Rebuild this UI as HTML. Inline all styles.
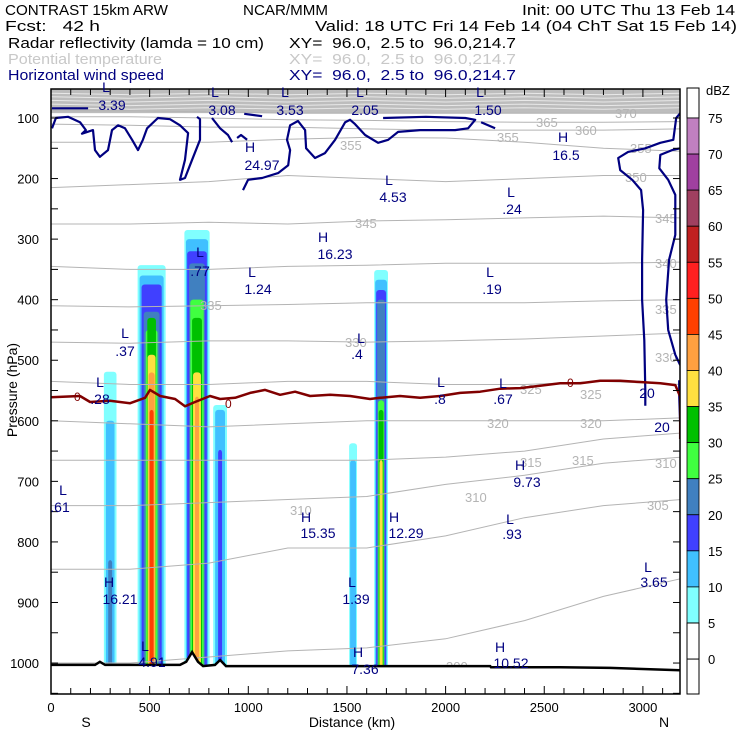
<!DOCTYPE html>
<html><head><meta charset="utf-8"><style>
html,body{margin:0;padding:0;background:#fff;}
svg{display:block;font-family:"Liberation Sans",sans-serif;}
#header text{white-space:pre;}
</style></head><body>
<svg id="chart" width="740" height="740" viewBox="0 0 740 740" xmlns="http://www.w3.org/2000/svg">
<g id="header" font-size="15" fill="#000" xml:space="preserve">
<text x="5" y="15" textLength="163" lengthAdjust="spacingAndGlyphs">CONTRAST 15km ARW</text>
<text x="243" y="15" textLength="85" lengthAdjust="spacingAndGlyphs">NCAR/MMM</text>
<text x="522" y="15" textLength="213" lengthAdjust="spacingAndGlyphs">Init: 00 UTC Thu 13 Feb 14</text>
<text x="5" y="31" textLength="95" lengthAdjust="spacingAndGlyphs">Fcst:   42 h</text>
<text x="315" y="31" textLength="422" lengthAdjust="spacingAndGlyphs">Valid: 18 UTC Fri 14 Feb 14 (04 ChT Sat 15 Feb 14)</text>
<text x="8" y="48" textLength="256" lengthAdjust="spacingAndGlyphs">Radar reflectivity (lamda = 10 cm)</text>
<text x="289" y="48" textLength="227" lengthAdjust="spacingAndGlyphs">XY=  96.0,  2.5 to  96.0,214.7</text>
<text x="8" y="64" fill="#c8c8c8" textLength="154" lengthAdjust="spacingAndGlyphs">Potential temperature</text>
<text x="289" y="64" fill="#c8c8c8" textLength="227" lengthAdjust="spacingAndGlyphs">XY=  96.0,  2.5 to  96.0,214.7</text>
<text x="8" y="80" fill="#000080" textLength="156" lengthAdjust="spacingAndGlyphs">Horizontal wind speed</text>
<text x="289" y="80" fill="#000080" textLength="227" lengthAdjust="spacingAndGlyphs">XY=  96.0,  2.5 to  96.0,214.7</text>
</g>
<defs><clipPath id="plotclip"><rect x="51" y="89" width="629" height="605"/></clipPath></defs>
<g id="plot" clip-path="url(#plotclip)"></g>
<g id="axes"></g>
<g id="cbar"></g>
<g id="hl" font-size="14" fill="#000080"></g>
</svg>
<script>
// ---- data ----
const xTicks = [0,500,1000,1500,2000,2500,3000];
const pTicks = [100,200,300,400,500,600,700,800,900,1000];
const dbzLevels = [5,10,15,20,25,30,35,40,45,50,55,60,65,70];
const dbzColors = ["#80ffff","#40c0ff","#4040ff","#4080c0","#40ff40","#00c000","#ffe040","#ffa040","#ff4000","#ff2020","#c02020","#a04060","#a040a0","#c080c0"];
const cbarLabels = [75,70,65,60,55,50,45,40,35,30,25,20,15,10,5,0];
// reflectivity cells: column centre (km), half width (km), top (hPa), dBZ
const cellCenter = [300,300,300, 510,510,510,510,510,510,510,510,510, 740,740,740,740,740,740,740,740, 857,857,857, 1531,1531, 1673,1673,1673,1673,1673,1673,1673];
const cellHalf   = [32,22,10, 71,61,51,40,30,22,20,15,10, 64,56,50,40,34,25,20,10, 35,25,10, 20,15, 35,30,25,20,15,12,8];
const cellTop    = [519,600,830, 343,360,375,420,450,430,491,520,582, 285,300,320,340,400,430,520,560, 574,582,648, 637,665, 351,367,384,400,566,582,665];
const cellDbz    = [5,10,20, 5,10,15,20,25,30,35,40,45, 5,10,15,20,25,30,35,40, 5,10,15, 5,10, 5,10,15,20,25,30,35];
// potential temperature
const thetaX = [0,400,800,1200,1600,2000,2400,2800,3200];
const thetaLevels = [300,305,310,315,320,325,330,335,340,345,350,355,360,365,370];
const thetaP = [
 [1000,1000,990,980,975,960,930,890,860],
 [845,845,835,810,810,790,760,740,730],
 [740,740,735,730,725,705,690,670,660],
 [665,665,665,665,665,660,650,630,620],
 [600,605,610,605,600,600,600,600,595],
 [535,540,540,535,535,540,540,535,540],
 [470,472,468,468,470,468,465,460,455],
 [410,412,410,408,405,405,405,402,400],
 [345,350,350,345,343,340,340,340,338],
 [275,275,272,275,270,268,265,262,265],
 [215,210,205,195,200,205,200,195,195],
 [140,140,140,135,132,133,140,150,155],
 [110,112,115,115,118,120,120,120,118],
 [98,98,100,103,104,106,107,107,106],
 [88,88,90,92,92,92,92,92,92]];
const upperBandP = [60,66,72,78,84];
// wind speed contours [km,hPa]
const windLines = [
 [[5,84],[188,84]],
 [[5,117],[25,100],[86,98],[147,107],[177,120],[157,126],[213,120],[223,153],[248,164],[289,153],[309,120],[340,112],[375,117],[411,136],[441,153],[466,136],[487,117],[542,100],[603,102],[654,112],[695,125],[679,169],[654,202],[679,199],[715,169],[755,136],[755,102],[740,98]],
 [[816,100],[857,117],[897,128],[918,140]],
 [[943,133],[963,128],[994,136]],
 [[979,93],[1070,97]],
 [[973,219],[999,202],[1070,199],[1151,191],[1202,178],[1212,153],[1196,136],[1212,112],[1252,105],[1288,120],[1293,150],[1338,166],[1389,158],[1440,136],[1491,107],[1516,103],[1541,110],[1592,128],[1658,141],[1709,136],[1759,123],[1871,120],[2048,120],[2114,117],[2150,103],[2100,100],[1900,98],[1683,100]],
 [[2180,107],[2251,117]],
 [[3189,92],[3169,100],[3154,136],[3088,141],[3012,150],[2925,156],[2875,166],[2885,186],[2946,202],[2991,219],[3001,252],[2996,334],[2996,400],[3007,467],[3012,549],[3012,575]],
 [[3189,150],[3148,153],[3088,161],[3083,183],[3128,202],[3164,227],[3164,293],[3133,334],[3118,400],[3128,450],[3164,491],[3189,508]],
 [[3184,533],[3184,558],[3189,607]]];
const zeroLine = [[0,561],[147,559],[198,569],[299,567],[401,571],[477,562],[502,549],[553,559],[629,564],[679,576],[730,569],[806,559],[857,564],[933,562],[1009,554],[1085,549],[1161,557],[1237,552],[1313,559],[1415,557],[1516,559],[1617,564],[1668,562],[1769,559],[1871,562],[1972,559],[2074,554],[2175,552],[2276,547],[2378,546],[2479,542],[2581,538],[2682,538],[2783,534],[2885,534],[2986,536],[3088,538],[3164,541],[3189,560],[3189,630]];
const terrain = [[0,1003],[223,1003],[248,998],[274,1003],[654,1003],[685,998],[715,982],[745,998],[771,1005],[831,1003],[857,995],[887,1005],[2226,1005],[2230,1007],[2581,1007],[2834,1008],[3189,1012]];

// ---- axes ----
const X = km => 51 + km*0.1973;
const Y = p => 118 + (p-100)*0.6056;
const NS = "http://www.w3.org/2000/svg";
function mk(tag, attrs, parent){const e=document.createElementNS(NS,tag);for(const k in attrs)e.setAttribute(k,attrs[k]);parent.appendChild(e);return e;}
const plot = document.getElementById('plot');
const axes = document.getElementById('axes');
const cbar = document.getElementById('cbar');
const pts = arr => arr.map(d=>X(d[0]).toFixed(1)+','+Y(d[1]).toFixed(1)).join(' ');

let band = mk('rect',{x:51,y:89,width:629,height:Y(92)-89,fill:'#bdbdbd'},plot);


upperBandP.forEach(p=>{
  const l = mk('polyline',{points:pts(thetaX.map((x,i)=>[x,p+((i%2)?1.5:-1)])),fill:'none',stroke:'#e8e8e8','stroke-width':1},plot);
  
  
});

const order = cellDbz.map((d,i)=>i).sort((a,b)=>cellDbz[a]-cellDbz[b]);
order.forEach(i=>{
  const ci = dbzLevels.indexOf(cellDbz[i]);
  const r = mk('rect',{x:X(cellCenter[i]-cellHalf[i]),y:Y(cellTop[i]),width:cellHalf[i]*2*0.1973,height:Y(1015)-Y(cellTop[i]),fill:dbzColors[ci],rx:3},plot);
  
  
});

thetaLevels.forEach((lv,k)=>{
  const l = mk('polyline',{points:pts(thetaX.map((x,i)=>[x,thetaP[k][i]])),fill:'none',stroke:'#b4b4b4','stroke-width':1},plot);
  
  
});

const thLabels=[["365",536,127],["370",615,118],["360",575,135],["355",340,150],["355",497,142],["355",630,153],["350",625,182],["345",355,228],["345",655,223],["340",655,268],["335",200,310],["335",655,314],["330",345,347],["330",655,362],["325",520,394],["325",580,399],["320",487,428],["320",580,428],["315",520,467],["315",572,465],["310",655,468],["310",465,502],["310",290,515],["305",647,510],["300",446,671],["297.3",143,681]];
thLabels.forEach(t=>{
  const e=mk('text',{x:t[1],y:t[2],'font-size':13,fill:'#b4b4b4'},plot);e.textContent=t[0];
  
  
});

windLines.forEach(w=>{
  const l = mk('polyline',{points:pts(w),fill:'none',stroke:'#000080','stroke-width':2.2,'stroke-linejoin':'round'},plot);
  
  
});
const z = mk('polyline',{points:pts(zeroLine),fill:'none',stroke:'#800000','stroke-width':2.5,'stroke-linejoin':'round'},plot);


[["0",74,401],["0",225,408],["0",567,387]].forEach(t=>{
  const e=mk('text',{x:t[1],y:t[2],'font-size':12,fill:'#800000'},plot);e.textContent=t[0];
  
  
});

const tp = pts(terrain);
const under = mk('polygon',{points:tp+' '+X(3200)+','+Y(1060)+' '+X(0)+','+Y(1060),fill:'#fff'},plot);


const ter = mk('polyline',{points:tp,fill:'none',stroke:'#000','stroke-width':2.5},plot);



const fr = mk('rect',{x:51,y:89,width:629,height:605,fill:'none',stroke:'#000','stroke-width':1.5},axes);


for(let km=0;km<=3100;km+=100){
  const len = (km%500===0)?8:6;
  const t1=mk('line',{x1:X(km),x2:X(km),y1:694,y2:694-len,stroke:'#000'},axes);
  
  
  const t2=mk('line',{x1:X(km),x2:X(km),y1:89,y2:89+len,stroke:'#000'},axes);
  
  
}
for(let p=100;p<=1050;p+=50){
  const t1=mk('line',{x1:51,x2:58,y1:Y(p),y2:Y(p),stroke:'#000'},axes);
  
  
  const t2=mk('line',{x1:680,x2:673,y1:Y(p),y2:Y(p),stroke:'#000'},axes);
  
  
}
xTicks.forEach(v=>{
  const e=mk('text',{x:X(v),y:712,'font-size':13,'text-anchor':'middle'},axes);e.textContent=v;
  
  
});
pTicks.forEach(v=>{
  const e=mk('text',{x:39,y:Y(v)+5,'font-size':13,'text-anchor':'end'},axes);e.textContent=v;
  
  
});
[["S",86,727,'x-axis-south'],["Distance (km)",352,727,'x-axis-title'],["N",664,727,'x-axis-north']].forEach(t=>{
  const e=mk('text',{x:t[1],y:t[2],'font-size':14,'text-anchor':'middle'},axes);e.textContent=t[0];
  
  
});
const yt=mk('text',{x:0,y:0,'font-size':14,'text-anchor':'middle',transform:'translate(17,390) rotate(-90)'},axes);yt.textContent='Pressure (hPa)';



const cbTop=88, cbStep=36.07, cb75=118;
const cw = mk('rect',{x:687,y:cbTop,width:12,height:cb75-cbTop,fill:'#fff',stroke:'#000'},cbar);


for(let i=0;i<dbzLevels.length;i++){
  const lv = dbzLevels.length-1-i;
  const r=mk('rect',{x:687,y:cb75+i*cbStep,width:12,height:cbStep,fill:dbzColors[lv],stroke:'#000','stroke-width':0.8},cbar);
  
  
}
const cb0 = cb75+14*cbStep;
const cz=mk('rect',{x:687,y:cb0,width:12,height:694-cb0,fill:'#fff',stroke:'#000'},cbar);


const cbt=mk('line',{x1:687,x2:699,y1:cb0+cbStep,y2:cb0+cbStep,stroke:'#000'},cbar);


cbarLabels.forEach((v,i)=>{
  const e=mk('text',{x:708,y:cb75+i*cbStep+5,'font-size':13},cbar);e.textContent=v;
  
  
});
const du=mk('text',{x:706,y:95,'font-size':13},cbar);du.textContent='dBZ';



const hlLetters=[["L",106,92,"3.39",112,110],["L",215,97,"3.08",222,115],["L",285,97,"3.53",290,115],["L",360,97,"2.05",365,115],["L",480,97,"1.50",488,115],["H",250,152,"24.97",262,170],["H",563,142,"16.5",566,160],["L",389,185,"4.53",393,202],["L",511,197,".24",512,214],["H",323,242,"16.23",335,259],["L",200,257,".77",200,276],["L",252,277,"1.24",258,294],["L",490,277,".19",492,294],["L",125,338,".37",125,356],["L",361,343,".4",357,359],["L",100,387,".28",100,404],["L",441,387,".8",440,404],["L",503,388,".67",503,404],["H",520,470,"9.73",527,487],["L",63,495,".61",60,512],["H",306,522,"15.35",318,538],["H",394,522,"12.29",406,538],["L",510,524,".93",512,539],["L",648,572,"3.65",654,587],["H",109,587,"16.21",120,604],["L",352,587,"1.39",356,604],["L",145,651,"4.91",152,667],["H",358,657,"7.36",365,674],["H",500,652,"10.52",511,668]];
const hl=document.getElementById('hl');
hlLetters.forEach(t=>{
  const a=mk('text',{x:t[1],y:t[2],'text-anchor':'middle'},hl);a.textContent=t[0];
  
  
  const b=mk('text',{x:t[4],y:t[5],'text-anchor':'middle'},hl);b.textContent=t[3];
  
  
});
[["20",647,398],["20",662,432]].forEach(t=>{
  const e=mk('text',{x:t[1],y:t[2],'text-anchor':'middle'},hl);e.textContent=t[0];
  
  
});
</script>
</body></html>
